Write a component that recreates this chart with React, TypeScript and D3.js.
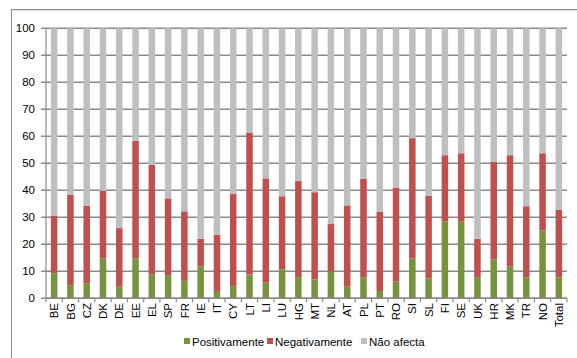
import React from "react";
import * as d3 from "d3";

const categories = ["BE","BG","CZ","DK","DE","EE","EL","SP","FR","IE","IT","CY","LT","LI","LU","HG","MT","NL","AT","PL","PT","RO","SI","SL","FI","SE","UK","HR","MK","TR","NO","Total"];
const positivamente = [9.3,4.9,5.6,14.8,4.3,14.8,8.9,8.6,6.5,11.7,2.7,4.6,8.8,5.8,10.7,7.8,7.0,10.1,4.3,7.8,2.7,6.2,14.8,7.4,28.5,28.4,7.8,14.4,11.7,7.8,25.2,7.8];
const negativamente = [21.2,33.4,28.6,25.0,21.7,43.5,40.5,28.4,25.7,10.3,20.8,34.0,52.6,38.6,27.1,35.7,32.3,17.4,30.1,36.4,29.3,34.8,44.5,30.5,24.5,25.3,14.2,36.2,41.3,26.3,28.5,24.9];
const naoAfecta = positivamente.map((p, i) => +(100 - p - negativamente[i]).toFixed(1));
const yTicks = [0,10,20,30,40,50,60,70,80,90,100];

const seriesNames = ["Positivamente","Negativamente","Não afecta"];
const seriesColors = ["#77933c","#c0504d","#bfbfbf"];

const W = 577, H = 358;
const FONT = "'Liberation Sans', Arial, sans-serif";

export default function App() {
  const x = d3.scaleBand<string>().domain(categories).range([46, 567]).paddingInner(0.6).paddingOuter(0.3);
  const xOuter = d3.scaleBand<string>().domain(categories).range([46, 567]);
  const y = d3.scaleLinear().domain([0, 100]).range([298.3, 28.3]);

  const rows = categories.map((c, i) => ({ cat: c, p: positivamente[i], n: negativamente[i], a: naoAfecta[i] }));
  const stack = d3.stack<any>().keys(["p","n","a"])(rows);

  const boundaries = categories.map((c) => xOuter(c)!).concat([567]);
  const legendX = [184, 267, 361];

  return (
    <svg width={W} height={H} style={{ position: "absolute", left: 0, top: 0, fontFamily: FONT }}>
      <rect x={0} y={0} width={W} height={H} fill="#fff" />
      {/* outer frame */}
      <line x1={11} x2={W} y1={9.5} y2={9.5} stroke="#8c8c8c" />
      <line x1={11.5} x2={W} y1={10.5} y2={10.5} stroke="#e0e0e0" />
      <line x1={11.5} x2={11.5} y1={9} y2={H} stroke="#8c8c8c" />

      {/* gridlines */}
      {yTicks.map((t) => (
        <line key={t} x1={41} x2={567} y1={y(t)} y2={y(t)} stroke="#8a8a8a" strokeWidth={1.4} />
      ))}

      {/* stacked bars */}
      {stack.map((s, si) => (
        <g key={si} fill={seriesColors[si]}>
          {s.map((d: any, i: number) => (
            <rect key={i} x={x(categories[i])} width={x.bandwidth()} y={y(d[1])} height={y(d[0]) - y(d[1])} />
          ))}
        </g>
      ))}

      {/* axes */}
      <line x1={46} x2={46} y1={y(100)} y2={y(0)} stroke="#8a8a8a" strokeWidth={1.2} />
      <line x1={46} x2={567} y1={y(0)} y2={y(0)} stroke="#8a8a8a" strokeWidth={1.4} />
      {boundaries.map((b, i) => (
        <line key={i} x1={b} x2={b} y1={y(0)} y2={y(0) + 4} stroke="#8a8a8a" strokeWidth={1.2} />
      ))}
      {yTicks.map((t) => (
        <text key={t} x={35} y={y(t)} dy="0.36em" textAnchor="end" fontSize={11.5} fill="#000">{t}</text>
      ))}
      {categories.map((c) => {
        const cx = xOuter(c)! + xOuter.bandwidth() / 2;
        return (
          <text key={c} transform={`translate(${cx},303) rotate(-90)`} dy="0.36em" textAnchor="end" fontSize={11.5} fill="#000">{c}</text>
        );
      })}

      {/* legend */}
      {seriesNames.map((n, i) => (
        <g key={n}>
          <rect x={legendX[i]} y={338} width={6} height={6} fill={seriesColors[i]} />
          <text x={legendX[i] + 8} y={345.5} fontSize={11.5} fill="#000">{n}</text>
        </g>
      ))}
    </svg>
  );
}
